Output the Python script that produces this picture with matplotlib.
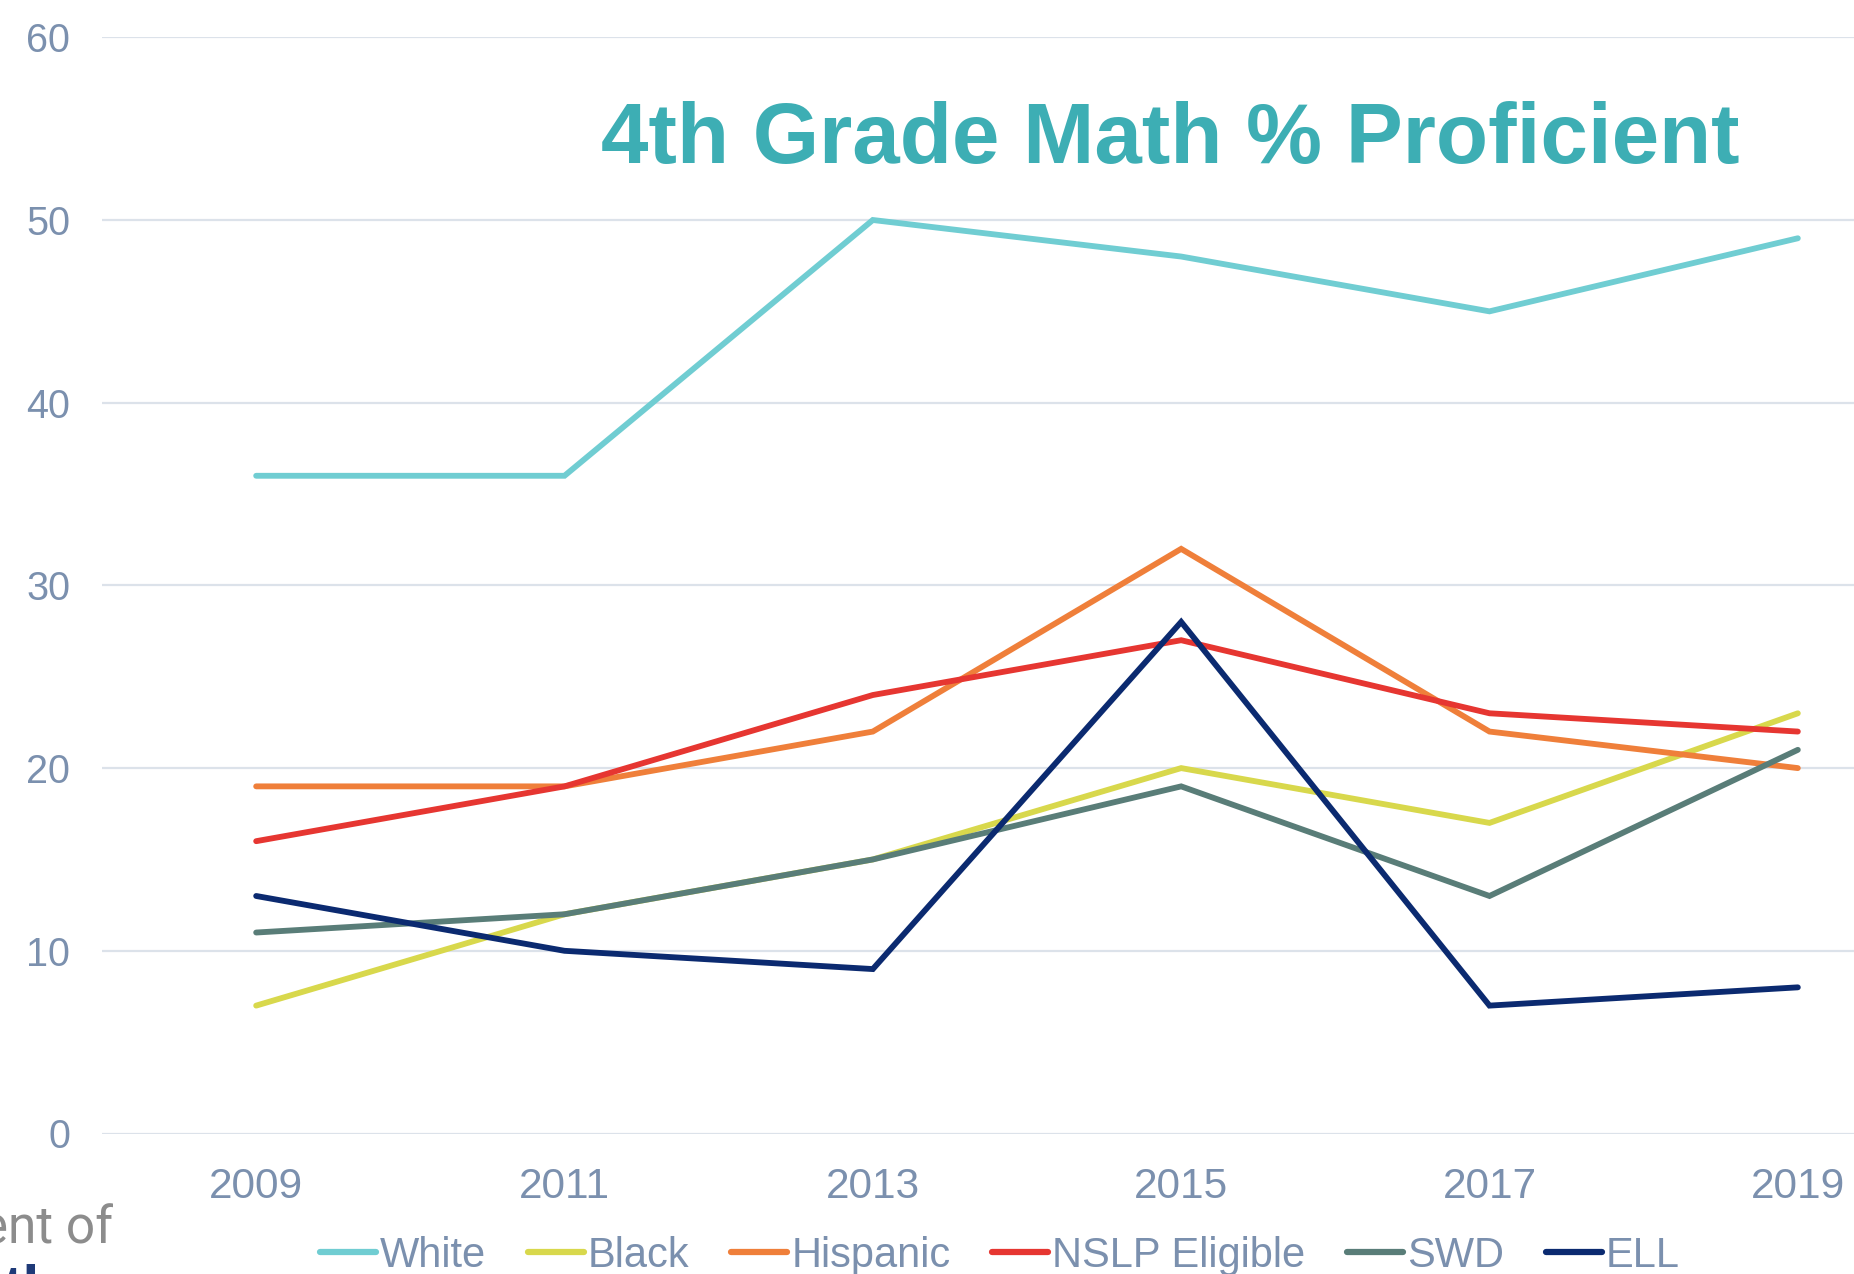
import matplotlib
matplotlib.use("Agg")
import matplotlib.pyplot as plt

years = ["2009", "2011", "2013", "2015", "2017", "2019"]
white = [36, 36, 50, 48, 45, 49]
black = [7, 12, 15, 20, 17, 23]
hispanic = [19, 19, 22, 32, 22, 20]
nslp = [16, 19, 24, 27, 23, 22]
swd = [11, 12, 15, 19, 13, 21]
ell = [13, 10, 9, 28, 7, 8]

series = [
    ("White", white, "#70cdd2"),
    ("Black", black, "#d8d84c"),
    ("Hispanic", hispanic, "#ef7f3a"),
    ("NSLP Eligible", nslp, "#e63631"),
    ("SWD", swd, "#597d78"),
    ("ELL", ell, "#0b2a70"),
]
yticks = [0, 10, 20, 30, 40, 50, 60]

W, H = 1854, 1274
plt.rcParams['font.family'] = ['Liberation Sans', 'DejaVu Sans']
fig = plt.figure(figsize=(W / 100, H / 100), dpi=100)
fig.patch.set_facecolor("white")

left, right = 102, 1952
top, bottom = 37.3, 1133.5
ax = fig.add_axes([left / W, 1 - bottom / H, (right - left) / W, (bottom - top) / H])
ax.set_facecolor("none")

x = list(range(len(years)))
handles = []
for name, vals, col in series:
    ln, = ax.plot(x, vals, color=col, lw=4.2, solid_capstyle="round",
                  solid_joinstyle="miter", label=name, zorder=3)
    handles.append(ln)

ax.set_xlim(-0.5, len(years) - 0.5)
ax.set_ylim(0, 60)
ax.set_yticks(yticks)
ax.set_yticklabels([str(v) for v in yticks])
ax.set_xticks(x)
ax.set_xticklabels(years)
tick_col = "#7b90ae"
ax.tick_params(axis="y", length=0, pad=23, labelsize=28.5, labelcolor=tick_col)
ax.tick_params(axis="x", length=0, pad=24, labelsize=30.5, labelcolor=tick_col)
ax.grid(axis="y", color="#dce2ea", lw=1.6, zorder=0)
ax.grid(axis="x", visible=False)
for s in ax.spines.values():
    s.set_visible(False)

fig.text(1170 / W, 1 - 163 / H, "4th Grade Math % Proficient", ha="center",
         va="baseline", fontsize=61.5, fontweight="bold", color="#3daeb4")

leg = fig.legend(handles=handles, loc="center", ncol=6,
                 bbox_to_anchor=(1000 / W, 1 - 1256 / H), frameon=False,
                 fontsize=30, handlelength=1.34, handletextpad=0.1,
                 columnspacing=1.0, borderpad=0, borderaxespad=0)
for t in leg.get_texts():
    t.set_color(tick_col)
for lh in leg.get_lines():
    lh.set_linewidth(4.5)
    lh.set_solid_capstyle("round")

# cropped logo text at bottom-left (cropped in the reference too)
fig.text(113 / W, 1 - 1243 / H, "Department of", ha="right", va="baseline",
         fontsize=37, color="#8c8c8c", family=["Roboto", "DejaVu Sans"])
fig.text(2 / W, 1 - 1264 / H, "th", ha="left", va="top", fontsize=44,
         fontweight="bold", color="#1f3a78")

fig.savefig("out.png", dpi=100)
